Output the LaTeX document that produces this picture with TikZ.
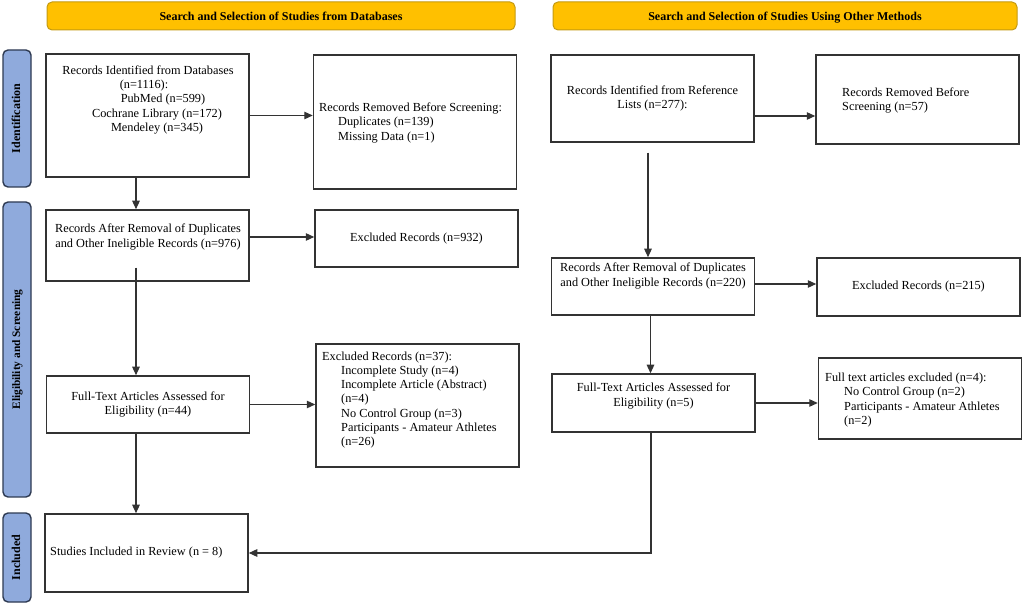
\documentclass[tikz,border=0pt]{standalone}
\usepackage{fontspec}
\setmainfont{Liberation Serif}
\usepackage{tikz}
\usetikzlibrary{arrows.meta}

\definecolor{bannerfill}{HTML}{FFC000}
\definecolor{bannerline}{HTML}{C49A12}
\definecolor{phasefill}{HTML}{8FAADC}
\definecolor{phaseline}{HTML}{2E3A52}
\definecolor{boxline}{HTML}{333333}

\tikzset{
  box/.style={draw=boxline, line width=1.5pt, minimum width=203pt, align=center, inner sep=0pt,
    font=\fontsize{12.3}{14.3}\selectfont},
  txt/.style={inner sep=0pt, align=left, font=\fontsize{12.3}{14.3}\selectfont},
  banner/.style={draw=bannerline, fill=bannerfill, line width=1pt, rounded corners=5pt,
    minimum height=28pt, text height=11pt, text depth=2.5pt, font=\bfseries\fontsize{12}{14}\selectfont},
  phase/.style={draw=phaseline, fill=phasefill, line width=1.4pt, rounded corners=5pt, rotate=90,
    minimum height=28pt, text height=8.5pt, text depth=2.5pt, font=\bfseries\fontsize{12}{14}\selectfont},
  arr/.style={draw=black!80, line width=1.2pt, -{Triangle[length=8.5pt,width=7.5pt]}},
}

\begin{document}
\begin{tikzpicture}[x=1pt, y=-1pt]
        \useasboundingbox (0,0) rectangle (1026,609);

        % headers
        \node[banner, minimum width=468pt] (headdb) at (281,16) {Search and Selection of Studies from Databases};
        \node[banner, minimum width=464pt] (headother) at (785,16) {Search and Selection of Studies Using Other Methods};

        % phases
        \node[phase, minimum width=137pt] (identification) at (17,118.5) {Identification};
        \node[phase, minimum width=295pt, font=\bfseries\fontsize{11.4}{14}\selectfont] (screening) at (17,349.5) {Eligibility and Screening};
        \node[phase, minimum width=89pt] (included) at (17,557.5) {Included};

        % databases
        \node[box, minimum height=123pt] (dbfound) at (147.5,115.5) {};
        \node[txt, align=center] (dbfoundtxt) at (148,100) {Records Identified from Databases\\\hspace*{-8pt}(n=1116):\\\hspace*{30pt}PubMed (n=599)\\\hspace*{18pt}Cochrane Library (n=172)\\\hspace*{18pt}Mendeley (n=345)};
        \node[box, minimum height=134pt] (dbremoved) at (415,122) {};
        \node[txt, anchor=west] (dbremovedtxt) at (319,123) {Records Removed Before Screening:\\\hspace*{19pt}Duplicates (n=139)\\\hspace*{19pt}Missing Data (n=1)};
        \node[box, minimum height=71pt] (dbclean) at (147.5,245.5) {};
        \node[txt, align=center] (dbcleantxt) at (148,237) {Records After Removal of Duplicates\\and Other Ineligible Records (n=976)};
        \node[box, minimum height=57pt] (dbexcl) at (416.5,238.5) {Excluded Records (n=932)};
        \node[box, minimum height=57pt] (dbfull) at (148,404.5) {Full-Text Articles Assessed for\\Eligibility (n=44)};
        \node[box, minimum height=123pt] (dbfullexcl) at (417.5,405.5) {};
        \node[txt, anchor=west] (dbfullexcltxt) at (322,400) {Excluded Records (n=37):\\\hspace*{19pt}Incomplete Study (n=4)\\\hspace*{19pt}Incomplete Article (Abstract)\\\hspace*{19pt}(n=4)\\\hspace*{19pt}No Control Group (n=3)\\\hspace*{19pt}Participants - Amateur Athletes\\\hspace*{19pt}(n=26)};
        \node[box, minimum height=78pt] (review) at (146.5,553) {};
        \node[txt, anchor=west] (reviewtxt) at (50,553) {Studies Included in Review (n = 8)};

        % other methods
        \node[box, minimum height=87pt] (refsfound) at (652.5,98.5) {Records Identified from Reference\\Lists (n=277):};
        \node[box, minimum height=89pt] (refsremoved) at (917.5,99.5) {};
        \node[txt, anchor=west] (refsremovedtxt) at (842,100.5) {Records Removed Before\\Screening (n=57)};
        \node[box, minimum height=57pt] (refsclean) at (653,286.5) {};
        \node[txt, align=center] (refscleantxt) at (653,276) {Records After Removal of Duplicates\\and Other Ineligible Records (n=220)};
        \node[box, minimum height=58pt] (refsexcl) at (918.5,287) {Excluded Records (n=215)};
        \node[box, minimum height=58pt] (refsfull) at (653.5,403) {};
        \node[txt, align=center] (refsfulltxt) at (653.5,396) {Full-Text Articles Assessed for\\Eligibility (n=5)};
        \node[box, minimum height=81pt] (refsfullexcl) at (920,398.5) {};
        \node[txt, anchor=west] (refsfullexcltxt) at (825,400) {Full text articles excluded (n=4):\\\hspace*{19pt}No Control Group (n=2)\\\hspace*{19pt}Participants - Amateur Athletes\\\hspace*{19pt}(n=2)};

        % connectors
        \coordinate (c1) at ([xshift=-11.5pt]dbfound.south);
        \coordinate (c2) at ([xshift=-11.5pt,yshift=14pt]dbclean.south);
        \coordinate (c3) at ([yshift=8.5pt]dbclean.east);
        \coordinate (c4) at ([xshift=-12pt]dbfull.south);
        \coordinate (c5) at ([yshift=-17.5pt]refsfound.east);
        \coordinate (c6) at ([xshift=-4.5pt,yshift=-10pt]refsfound.south);
        \coordinate (c7) at ([yshift=2.5pt]refsclean.east);
        \coordinate (c8) at ([xshift=-2.5pt]refsclean.south);
        \coordinate (c9) at ([xshift=-2.5pt]refsfull.south);
        \draw[arr] (dbfound.east) -- (dbfound.east -| dbremoved.west);
        \draw[arr] (c1) -- (c1 |- dbclean.north);
        \draw[arr] (c3) -- (c3 -| dbexcl.west);
        \draw[arr] (c2) -- (c2 |- dbfull.north);
        \draw[arr] (dbfull.east) -- (dbfull.east -| dbfullexcl.west);
        \draw[arr] (c4) -- (c4 |- review.north);
        \draw[arr] (c5) -- (c5 -| refsremoved.west);
        \draw[arr] (c6) -- (c6 |- refsclean.north);
        \draw[arr] (c7) -- (c7 -| refsexcl.west);
        \draw[arr] (c8) -- (c8 |- refsfull.north);
        \draw[arr] (refsfull.east) -- (refsfull.east -| refsfullexcl.west);
        \draw[arr] (c9) |- (review.east);
\end{tikzpicture}
\end{document}
